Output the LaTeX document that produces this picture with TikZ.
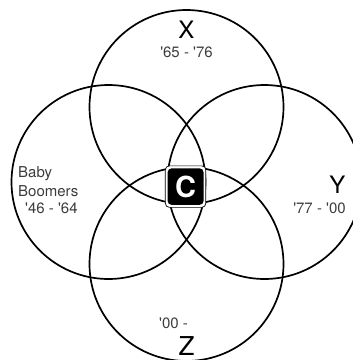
\documentclass[tikz,border=0pt]{standalone}
\usepackage{fontspec}
\newfontfamily\hv{TeX Gyre Heros}[Ligatures=TeXOff]
\usetikzlibrary{positioning}
\definecolor{labgray}{HTML}{3C3C3C}
\tikzset{
  ring/.style={draw=black, line width=1.7pt},
  big/.style={font=\hv\fontsize{24}{24}\selectfont, text=black, inner sep=0pt, anchor=base},
  small/.style={font=\hv\fontsize{15}{15}\selectfont, text=labgray, inner sep=0pt, anchor=base},
}
\begin{document}
\begin{tikzpicture}[x=1pt,y=-1pt]
\useasboundingbox (0,0) rectangle (353,360);
\begin{scope}
\clip (0,0) rectangle (353,360);
\draw[ring] (186.5,107) circle (97);
\draw[ring] (108.5,182) circle (97);
\draw[ring] (264.5,182) circle (97);
\draw[ring] (186.5,264) circle (97);
\end{scope}
% centre badge
\node (frame) [draw=black, line width=0.7pt, fill=white, rounded corners=4pt,
  minimum width=40.5pt, minimum height=41.5pt, inner sep=0pt] at (185.6,186.6) {};
\node (badge) [fill=black, rounded corners=4pt, minimum width=36pt, minimum height=36.5pt,
  inner sep=0pt, text=white, font=\hv\bfseries\fontsize{29}{29}\selectfont] at (185.6,186.6) {C};
% labels
\node (xl) [big] at (186.5,38) {X};
\node (xd) [small] at (186.5,57) {'65 - '76};
\node (yl) [big] at (337.5,193) {Y};
\node (yd) [small] at (319.5,213) {'77 - '00};
\node (zd) [small] at (173.5,328) {'00 -};
\node (zl) [big, font=\hv\fontsize{26}{26}\selectfont] at (186.5,355) {Z};
\node (b1) [small, anchor=base west] at (18,177) {Baby};
\node (b2) [small, anchor=base west] at (18,196) {Boomers};
\node (b3) [small, anchor=base west] at (25,213) {'46 - '64};
\end{tikzpicture}
\end{document}
